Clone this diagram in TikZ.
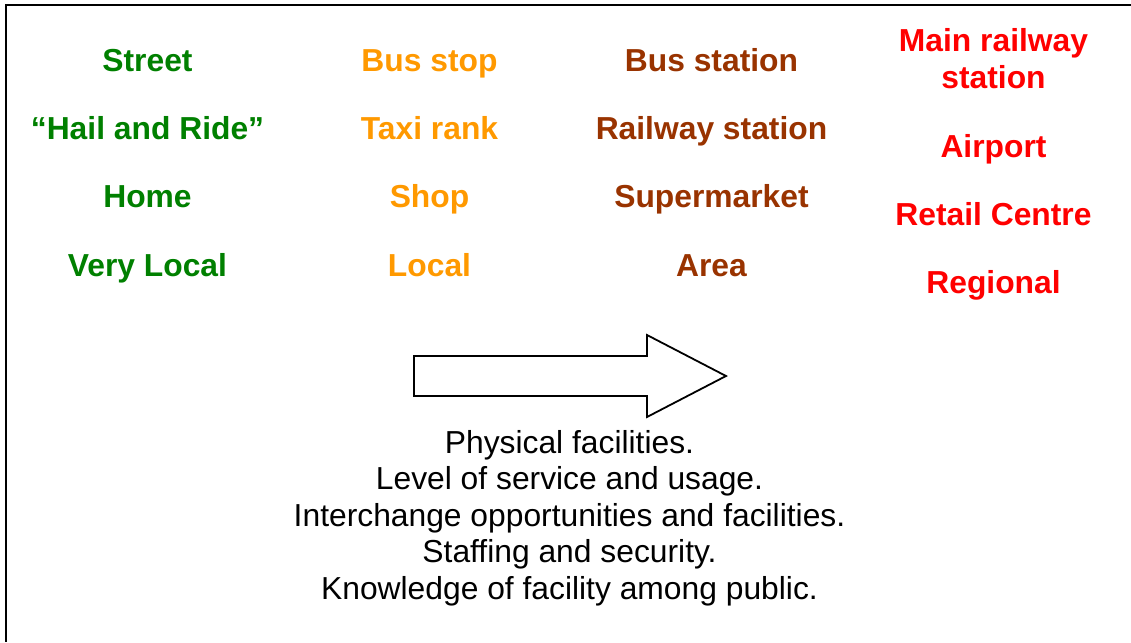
\documentclass[tikz,border=0pt]{standalone}
\usepackage{fontspec}
\setmainfont{Liberation Sans}
\definecolor{cgreen}{HTML}{008000}
\definecolor{corange}{HTML}{FF9900}
\definecolor{cbrown}{HTML}{993300}
\definecolor{cred}{HTML}{FF0000}
\tikzset{
  lbl/.style={anchor=base, inner sep=0pt, font=\fontsize{31.8}{36}\selectfont\bfseries, align=center},
  vl/.style={lbl, text=cgreen},
  lo/.style={lbl, text=corange},
  ar/.style={lbl, text=cbrown},
  rg/.style={lbl, text=cred},
  body/.style={anchor=base, inner sep=0pt, font=\fontsize{31.8}{36.5}\selectfont, align=center},
  frame/.style={line width=2.5pt, draw=black},
  blockarrow/.style={line width=1.8pt, draw=black, fill=white, line join=miter}
}
\begin{document}
\begin{tikzpicture}[x=1pt,y=-1pt]
\useasboundingbox (0,0) rectangle (1131,642);
\coordinate (tl) at (6,5);
\coordinate (tr) at (1131,5);
\coordinate (bl) at (6,642);
\draw[frame] (tr) -- (tl) -- (bl);
% column 1
\node[vl] (c1a) at (147.5,71) {Street};
\node[vl] (c1b) at (147.5,139.5) {``Hail and Ride''};
\node[vl] (c1c) at (147.5,207.5) {Home};
\node[vl] (c1d) at (147.5,276) {Very Local};
% column 2
\node[lo] (c2a) at (429.5,71) {Bus stop};
\node[lo] (c2b) at (429.5,139.5) {Taxi rank};
\node[lo] (c2c) at (429.5,207.5) {Shop};
\node[lo] (c2d) at (429.5,276) {Local};
% column 3
\node[ar] (c3a) at (711.5,71) {Bus station};
\node[ar] (c3b) at (711.5,139.5) {Railway station};
\node[ar] (c3c) at (711.5,207.5) {Supermarket};
\node[ar] (c3d) at (711.5,276) {Area};
% column 4
\node[rg] (c4a) at (993.5,88) {Main railway\\station};
\node[rg] (c4b) at (993.5,157) {Airport};
\node[rg] (c4c) at (993.5,225) {Retail Centre};
\node[rg] (c4d) at (993.5,293.5) {Regional};
% block arrow
\coordinate (a1) at (414,356);
\coordinate (a2) at (647,356);
\coordinate (a3) at (647,335);
\coordinate (a4) at (726,376);
\coordinate (a5) at (647,417);
\coordinate (a6) at (647,396);
\coordinate (a7) at (414,396);
\draw[blockarrow] (a1) -- (a2) -- (a3) -- (a4) -- (a5) -- (a6) -- (a7) -- cycle;
% body text
\node[body] (txt) at (569.5,599) {Physical facilities.\\Level of service and usage.\\Interchange opportunities and facilities.\\Staffing and security.\\Knowledge of facility among public.};
\end{tikzpicture}
\end{document}
